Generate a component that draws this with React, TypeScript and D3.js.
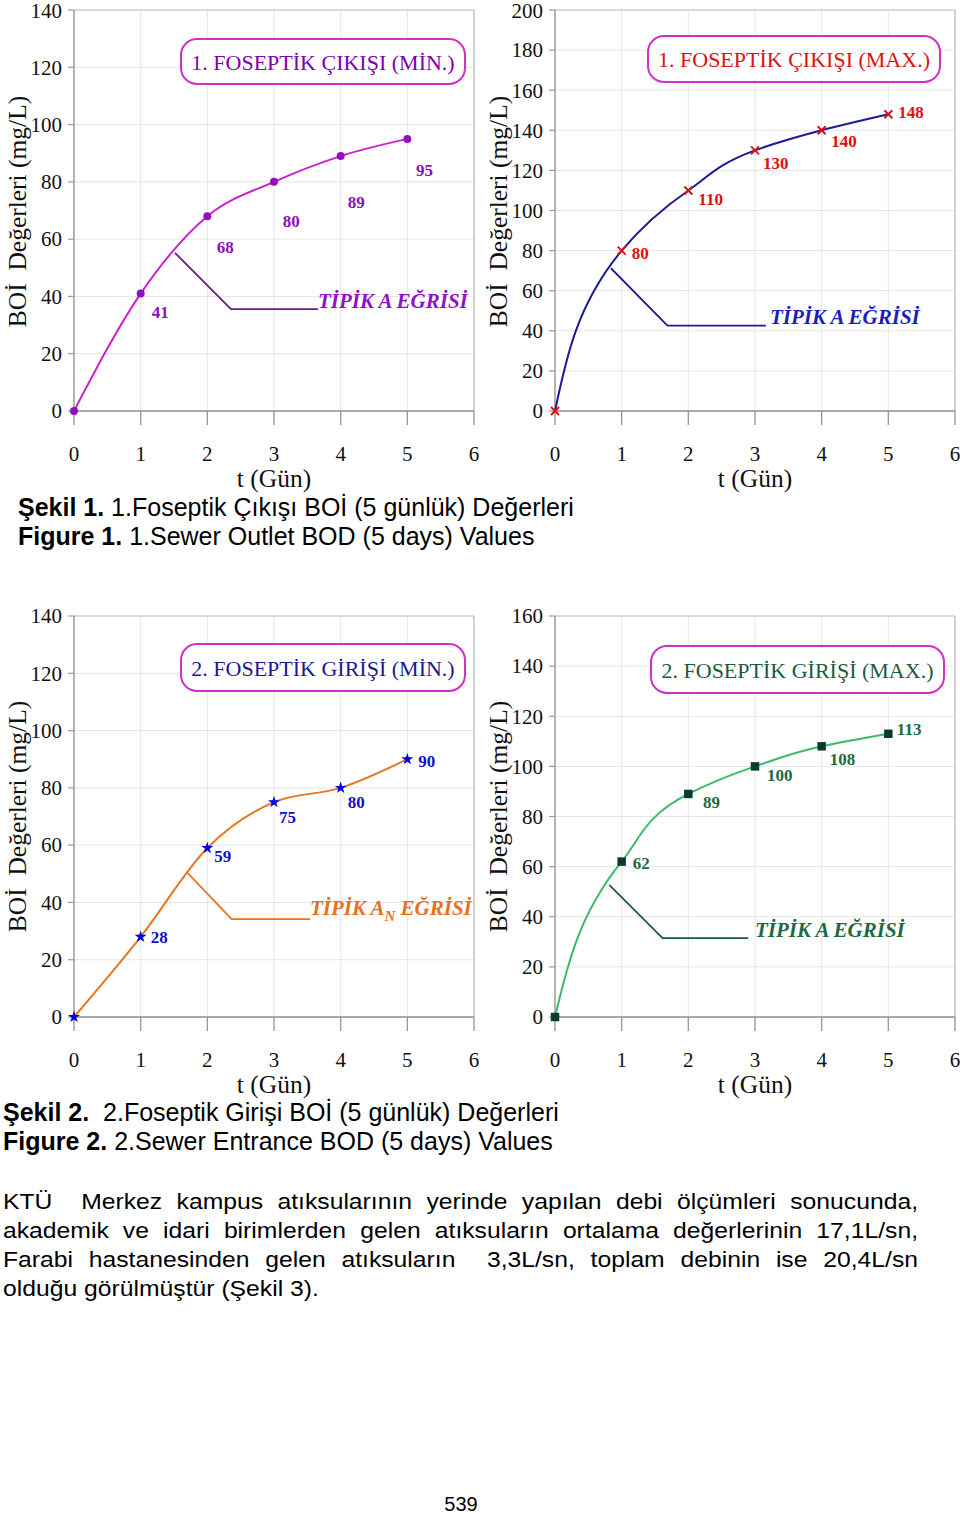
import React, { useLayoutEffect, useRef, useState } from 'react';
import * as d3 from 'd3';

// ---------- data ----------
const DAYS = [0, 1, 2, 3, 4, 5];
const X_TICKS = [0, 1, 2, 3, 4, 5, 6];

const OUTLET_MIN = [0, 41, 68, 80, 89, 95];
const OUTLET_MAX = [0, 80, 110, 130, 140, 148];
const INLET_MIN = [0, 28, 59, 75, 80, 90];
const INLET_MAX = [0, 62, 89, 100, 108, 113];

const Y_TICKS_140 = [0, 20, 40, 60, 80, 100, 120, 140];
const Y_TICKS_200 = [0, 20, 40, 60, 80, 100, 120, 140, 160, 180, 200];
const Y_TICKS_160 = [0, 20, 40, 60, 80, 100, 120, 140, 160];

const TITLES = [
  '1. FOSEPTİK ÇIKIŞI (MİN.)',
  '1. FOSEPTİK ÇIKIŞI (MAX.)',
  '2. FOSEPTİK GİRİŞİ (MİN.)',
  '2. FOSEPTİK GİRİŞİ (MAX.)',
];
const Y_TITLE = 'BOİ  Değerleri (mg/L)';
const X_TITLE = 't (Gün)';

const CAPTION_1 = ['Şekil 1.', ' 1.Foseptik Çıkışı BOİ (5 günlük) Değerleri'];
const CAPTION_1B = ['Figure 1.', ' 1.Sewer Outlet BOD (5 days) Values'];
const CAPTION_2 = ['Şekil 2.', '  2.Foseptik Girişi BOİ (5 günlük) Değerleri'];
const CAPTION_2B = ['Figure 2.', ' 2.Sewer Entrance BOD (5 days) Values'];

const PARAGRAPH = [
  'KTÜ  Merkez kampus atıksularının yerinde yapılan debi ölçümleri sonucunda,',
  'akademik ve idari birimlerden gelen atıksuların ortalama değerlerinin 17,1L/sn,',
  'Farabi hastanesinden gelen atıksuların  3,3L/sn, toplam debinin ise 20,4L/sn',
  'olduğu görülmüştür (Şekil 3).',
];
const PAGE_NUMBER = '539';

// ---------- layout / style ----------
const SERIF = "'Liberation Serif', 'Times New Roman', serif";
const SANS = "'Liberation Sans', Arial, sans-serif";

type Cfg = {
  left: number; right: number; top: number; bottom: number;
  values: number[]; yTicks: number[]; yMax: number; curve: 'x' | 'y';
  lineColor: string; marker: 'circle' | 'x' | 'star' | 'square';
  markerColor: string; labelColor: string;
  labelOffsets: ([number, number] | null)[];
  title: string; titleColor: string; box: [number, number, number, number];
  annot: [number, number][]; annotColor: string; annotTextColor: string;
  annotTextT: number; annotTextDy: number; subscript: boolean;
  yTitleX: number; yTitleY: number;
};

const CHARTS: Cfg[] = [
  {
    left: 74, right: 474, top: 10, bottom: 411,
    values: OUTLET_MIN, yTicks: Y_TICKS_140, yMax: 140, curve: 'x',
    lineColor: '#cc22cc', marker: 'circle', markerColor: '#9010c0', labelColor: '#8a10b8',
    labelOffsets: [null, [11, 24], [9.4, 37], [8.7, 45], [7, 52], [8.7, 37]],
    title: TITLES[0], titleColor: '#8000b0', box: [181, 39, 284, 45],
    annot: [[1.515, 55.2], [2.355, 35.6], [3.66, 35.6]], annotColor: '#6a1a8a', annotTextColor: '#9010c8',
    annotTextT: 3.66, annotTextDy: -1, subscript: false,
    yTitleX: 26, yTitleY: 211.5,
  },
  {
    left: 555, right: 955, top: 10, bottom: 411,
    values: OUTLET_MAX, yTicks: Y_TICKS_200, yMax: 200, curve: 'y',
    lineColor: '#1a1a9a', marker: 'x', markerColor: '#e01010', labelColor: '#dd1111',
    labelOffsets: [null, [10, 8], [10, 15], [8, 19], [9.7, 17], [10, 4]],
    title: TITLES[1], titleColor: '#dd1111', box: [648, 36, 292, 46],
    annot: [[0.839, 71.2], [1.687, 42.6], [3.163, 42.6]], annotColor: '#1a1aa0', annotTextColor: '#1c1cc0',
    annotTextT: 3.225, annotTextDy: -1.5, subscript: false,
    yTitleX: 507, yTitleY: 211.5,
  },
  {
    left: 74, right: 474, top: 616, bottom: 1017,
    values: INLET_MIN, yTicks: Y_TICKS_140, yMax: 140, curve: 'x',
    lineColor: '#e8761e', marker: 'star', markerColor: '#0000dd', labelColor: '#1010c8',
    labelOffsets: [null, [10, 6], [7, 14], [5, 20.5], [7, 20], [11, 7.5]],
    title: TITLES[2], titleColor: '#1a1a90', box: [181, 644, 284, 47],
    annot: [[1.706, 50.2], [2.365, 34.2], [3.54, 34.2]], annotColor: '#e8761e', annotTextColor: '#e8701a',
    annotTextT: 3.54, annotTextDy: -4, subscript: true,
    yTitleX: 26, yTitleY: 816.5,
  },
  {
    left: 555, right: 955, top: 616, bottom: 1017,
    values: INLET_MAX, yTicks: Y_TICKS_160, yMax: 160, curve: 'y',
    lineColor: '#3cb96a', marker: 'square', markerColor: '#0b3b2e', labelColor: '#1a6b44',
    labelOffsets: [null, [11, 7.5], [14.7, 14], [12, 15], [8, 19], [8.5, 1]],
    title: TITLES[3], titleColor: '#1a5c3c', box: [651, 646, 293, 47],
    annot: [[0.813, 52.7], [1.613, 31.5], [2.9, 31.5]], annotColor: '#1e5a3c', annotTextColor: '#1a6b44',
    annotTextT: 3.0, annotTextDy: -1, subscript: false,
    yTitleX: 507, yTitleY: 816.5,
  },
];

function Marker({ kind, color, cx, cy }: { kind: string; color: string; cx: number; cy: number }) {
  if (kind === 'circle') return <circle cx={cx} cy={cy} r={4} fill={color} />;
  if (kind === 'x') {
    const s = 4;
    return (
      <path d={`M${cx - s},${cy - s}L${cx + s},${cy + s}M${cx - s},${cy + s}L${cx + s},${cy - s}`}
        stroke={color} strokeWidth={2} fill="none" />
    );
  }
  const sym = kind === 'star' ? d3.symbol(d3.symbolStar, 45) : d3.symbol(d3.symbolSquare, 72);
  return <path d={sym() || ''} transform={`translate(${cx},${cy})`} fill={color} />;
}

function Chart({ cfg }: { cfg: Cfg }) {
  const x = d3.scaleLinear().domain([0, 6]).range([cfg.left, cfg.right]);
  const y = d3.scaleLinear().domain([0, cfg.yMax]).range([cfg.bottom, cfg.top]);
  const line = d3.line<number>()
    .x((_, i) => x(DAYS[i]))
    .y((d) => y(d))
    .curve(cfg.curve === 'y' ? d3.curveMonotoneY : d3.curveMonotoneX);
  const annotLine = d3.line<[number, number]>().x((d) => x(d[0])).y((d) => y(d[1]));
  const annotY = y(cfg.annot[cfg.annot.length - 1][1]);
  const [bx, by, bw, bh] = cfg.box;

  return (
    <g>
      {X_TICKS.slice(1, -1).map((t) => (
        <line key={'gx' + t} x1={x(t)} x2={x(t)} y1={cfg.top} y2={cfg.bottom} stroke="#e6e6e6" strokeWidth={1} />
      ))}
      {cfg.yTicks.slice(1, -1).map((t) => (
        <line key={'gy' + t} x1={cfg.left} x2={cfg.right} y1={y(t)} y2={y(t)} stroke="#e6e6e6" strokeWidth={1} />
      ))}
      <line x1={cfg.left} x2={cfg.right} y1={cfg.top} y2={cfg.top} stroke="#b4b4b4" strokeWidth={1.2} />
      <line x1={cfg.right} x2={cfg.right} y1={cfg.top} y2={cfg.bottom} stroke="#b4b4b4" strokeWidth={1.2} />
      <line x1={cfg.left} x2={cfg.left} y1={cfg.top} y2={cfg.bottom} stroke="#8c8c8c" strokeWidth={1.3} />
      <line x1={cfg.left} x2={cfg.right} y1={cfg.bottom} y2={cfg.bottom} stroke="#8c8c8c" strokeWidth={1.3} />
      {X_TICKS.map((t) => (
        <g key={'xt' + t}>
          <line x1={x(t)} x2={x(t)} y1={cfg.bottom} y2={cfg.bottom + 14} stroke="#9a9a9a" strokeWidth={1.4} />
          <text x={x(t)} y={cfg.bottom + 50} textAnchor="middle" fontFamily={SERIF} fontSize={21} fill="#111">{t}</text>
        </g>
      ))}
      {cfg.yTicks.map((t) => (
        <g key={'yt' + t}>
          <line x1={cfg.left - 6} x2={cfg.left} y1={y(t)} y2={y(t)} stroke="#9a9a9a" strokeWidth={1.2} />
          <text x={cfg.left - 12} y={Math.max(y(t), 11)} dy="0.35em" textAnchor="end" fontFamily={SERIF} fontSize={21} fill="#111">{t}</text>
        </g>
      ))}
      <text x={x(3)} y={cfg.bottom + 76} textAnchor="middle" fontFamily={SERIF} fontSize={25.5} fill="#111">{X_TITLE}</text>
      <text transform={`translate(${cfg.yTitleX},${cfg.yTitleY}) rotate(-90)`} textAnchor="middle"
        fontFamily={SERIF} fontSize={25.5} fill="#111" style={{ whiteSpace: 'pre' }}>{Y_TITLE}</text>
      <rect x={bx} y={by} width={bw} height={bh} rx={16} ry={16} fill="#fff" stroke="#d030c8" strokeWidth={2} />
      <text x={bx + bw / 2} y={by + bh / 2 + 8} textAnchor="middle" fontFamily={SERIF} fontSize={22} fill={cfg.titleColor}>{cfg.title}</text>
      <path d={annotLine(cfg.annot) || ''} fill="none" stroke={cfg.annotColor} strokeWidth={1.8} />
      <text x={x(cfg.annotTextT)} y={annotY + cfg.annotTextDy} fontFamily={SERIF} fontSize={21}
        fontWeight="bold" fontStyle="italic" fill={cfg.annotTextColor}>
        {cfg.subscript ? (
          <>
            <tspan>TİPİK A</tspan>
            <tspan dy={6} fontSize={15}>N</tspan>
            <tspan dy={-6}> EĞRİSİ</tspan>
          </>
        ) : 'TİPİK A EĞRİSİ'}
      </text>
      <path d={line(cfg.values) || ''} fill="none" stroke={cfg.lineColor} strokeWidth={2} />
      {cfg.values.map((v, i) => (
        <Marker key={'m' + i} kind={cfg.marker} color={cfg.markerColor} cx={x(DAYS[i])} cy={y(v)} />
      ))}
      {cfg.values.map((v, i) => {
        const off = cfg.labelOffsets[i];
        if (!off) return null;
        return (
          <text key={'l' + i} x={x(DAYS[i]) + off[0]} y={y(v) + off[1]} fontFamily={SERIF} fontSize={17}
            fontWeight="bold" fill={cfg.labelColor}>{v}</text>
        );
      })}
    </g>
  );
}

function Caption({ parts, x, y }: { parts: string[]; x: number; y: number }) {
  return (
    <text x={x} y={y} fontFamily={SANS} fontSize={25} fill="#000" style={{ whiteSpace: 'pre' }}>
      <tspan fontWeight="bold">{parts[0]}</tspan>
      <tspan>{parts[1]}</tspan>
    </text>
  );
}

const PARA_FONT = 23;
const PARA_SX = 1.075;

function JustifiedLine({ text, x, y, width, justify }: { text: string; x: number; y: number; width: number; justify: boolean }) {
  const words = text.split(' ');
  const refs = useRef<(SVGTextElement | null)[]>([]);
  const [xs, setXs] = useState<number[] | null>(null);
  const w0 = width / PARA_SX;
  useLayoutEffect(() => {
    const ws = refs.current.map((r) => (r ? r.getComputedTextLength() : 0));
    const total = ws.reduce((a, b) => a + b, 0);
    const gap = justify ? (w0 - total) / (words.length - 1) : PARA_FONT * 0.278;
    let cx = 0;
    const out: number[] = [];
    ws.forEach((w) => { out.push(cx); cx += w + gap; });
    setXs(out);
  }, [text]);
  return (
    <g transform={`translate(${x},0) scale(${PARA_SX},1)`}>
      {words.map((w, i) => (
        <text key={i} ref={(el) => { refs.current[i] = el; }} x={xs ? xs[i] : 0} y={y}
          fontFamily={SANS} fontSize={PARA_FONT} fill="#000">{w}</text>
      ))}
    </g>
  );
}

export default function App() {
  return (
    <svg width={960} height={1514} viewBox="0 0 960 1514"
      style={{ position: 'absolute', left: 0, top: 0, display: 'block', background: '#fff' }}>
      <rect x={0} y={0} width={960} height={1514} fill="#fff" />
      {CHARTS.map((c, i) => <Chart key={i} cfg={c} />)}
      <Caption parts={CAPTION_1} x={18} y={516} />
      <Caption parts={CAPTION_1B} x={18} y={545} />
      <Caption parts={CAPTION_2} x={3} y={1121} />
      <Caption parts={CAPTION_2B} x={3} y={1150} />
      {PARAGRAPH.map((p, i) => (
        <JustifiedLine key={i} text={p} x={3} y={1209 + i * 29} width={915} justify={i < PARAGRAPH.length - 1} />
      ))}
      <text x={461} y={1511} textAnchor="middle" fontFamily={SANS} fontSize={20} fill="#000">{PAGE_NUMBER}</text>
    </svg>
  );
}
